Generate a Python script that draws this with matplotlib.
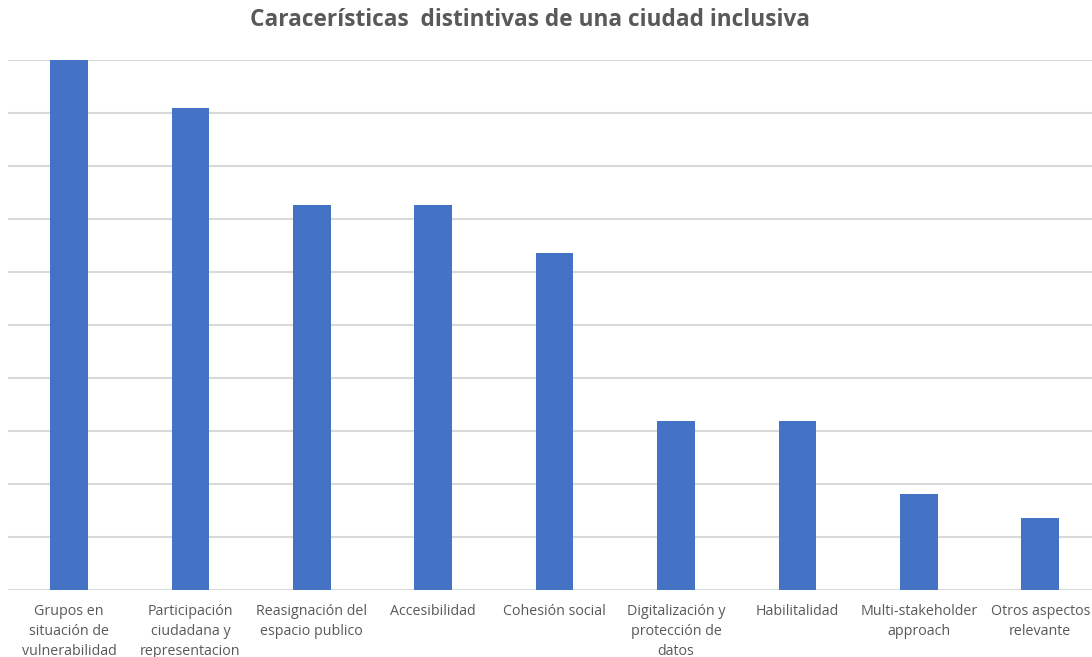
import matplotlib
matplotlib.use("Agg")
import matplotlib.pyplot as plt
import numpy as np

categories = [
    "Grupos en\nsituación de\nvulnerabilidad",
    "Participación\nciudadana y\nrepresentacion",
    "Reasignación del\nespacio publico",
    "Accesibilidad",
    "Cohesión social",
    "Digitalización y\nprotección de\ndatos",
    "Habilitalidad",
    "Multi-stakeholder\napproach",
    "Otros aspectos\nrelevante",
]
values = [22, 20, 16, 16, 14, 7, 7, 4, 3]
y_max = 22
grid_ticks = np.linspace(0, y_max, 11)

plt.rcParams['font.family'] = ['Open Sans', 'DejaVu Sans']

fig = plt.figure(figsize=(10.92, 6.57), dpi=100)
ax = fig.add_axes([8.3 / 1092, 67 / 657, 1092.6 / 1092, 530 / 657])

x = np.arange(len(categories))
ax.bar(x, values, width=0.31, color="#4472C4", zorder=3)

ax.set_xlim(-0.5, len(categories) - 0.5)
ax.set_ylim(0, y_max)
ax.set_yticks(grid_ticks)
ax.set_yticklabels([])
ax.tick_params(axis="y", length=0)
ax.grid(axis="y", color="#d9d9d9", linewidth=1.5, zorder=0)
for s in ax.spines.values():
    s.set_visible(False)

ax.set_xticks(x)
ax.set_xticklabels(categories, fontsize=10.3, color="#595959", linespacing=1.45)
ax.tick_params(axis="x", length=0, pad=10)

fig.text(0.485, 1 - 20 / 657, "Caracerísticas  distintivas de una ciudad inclusiva",
         ha="center", va="center", fontsize=16.3, fontweight="bold", color="#595959")

fig.savefig("out.png", dpi=100)
